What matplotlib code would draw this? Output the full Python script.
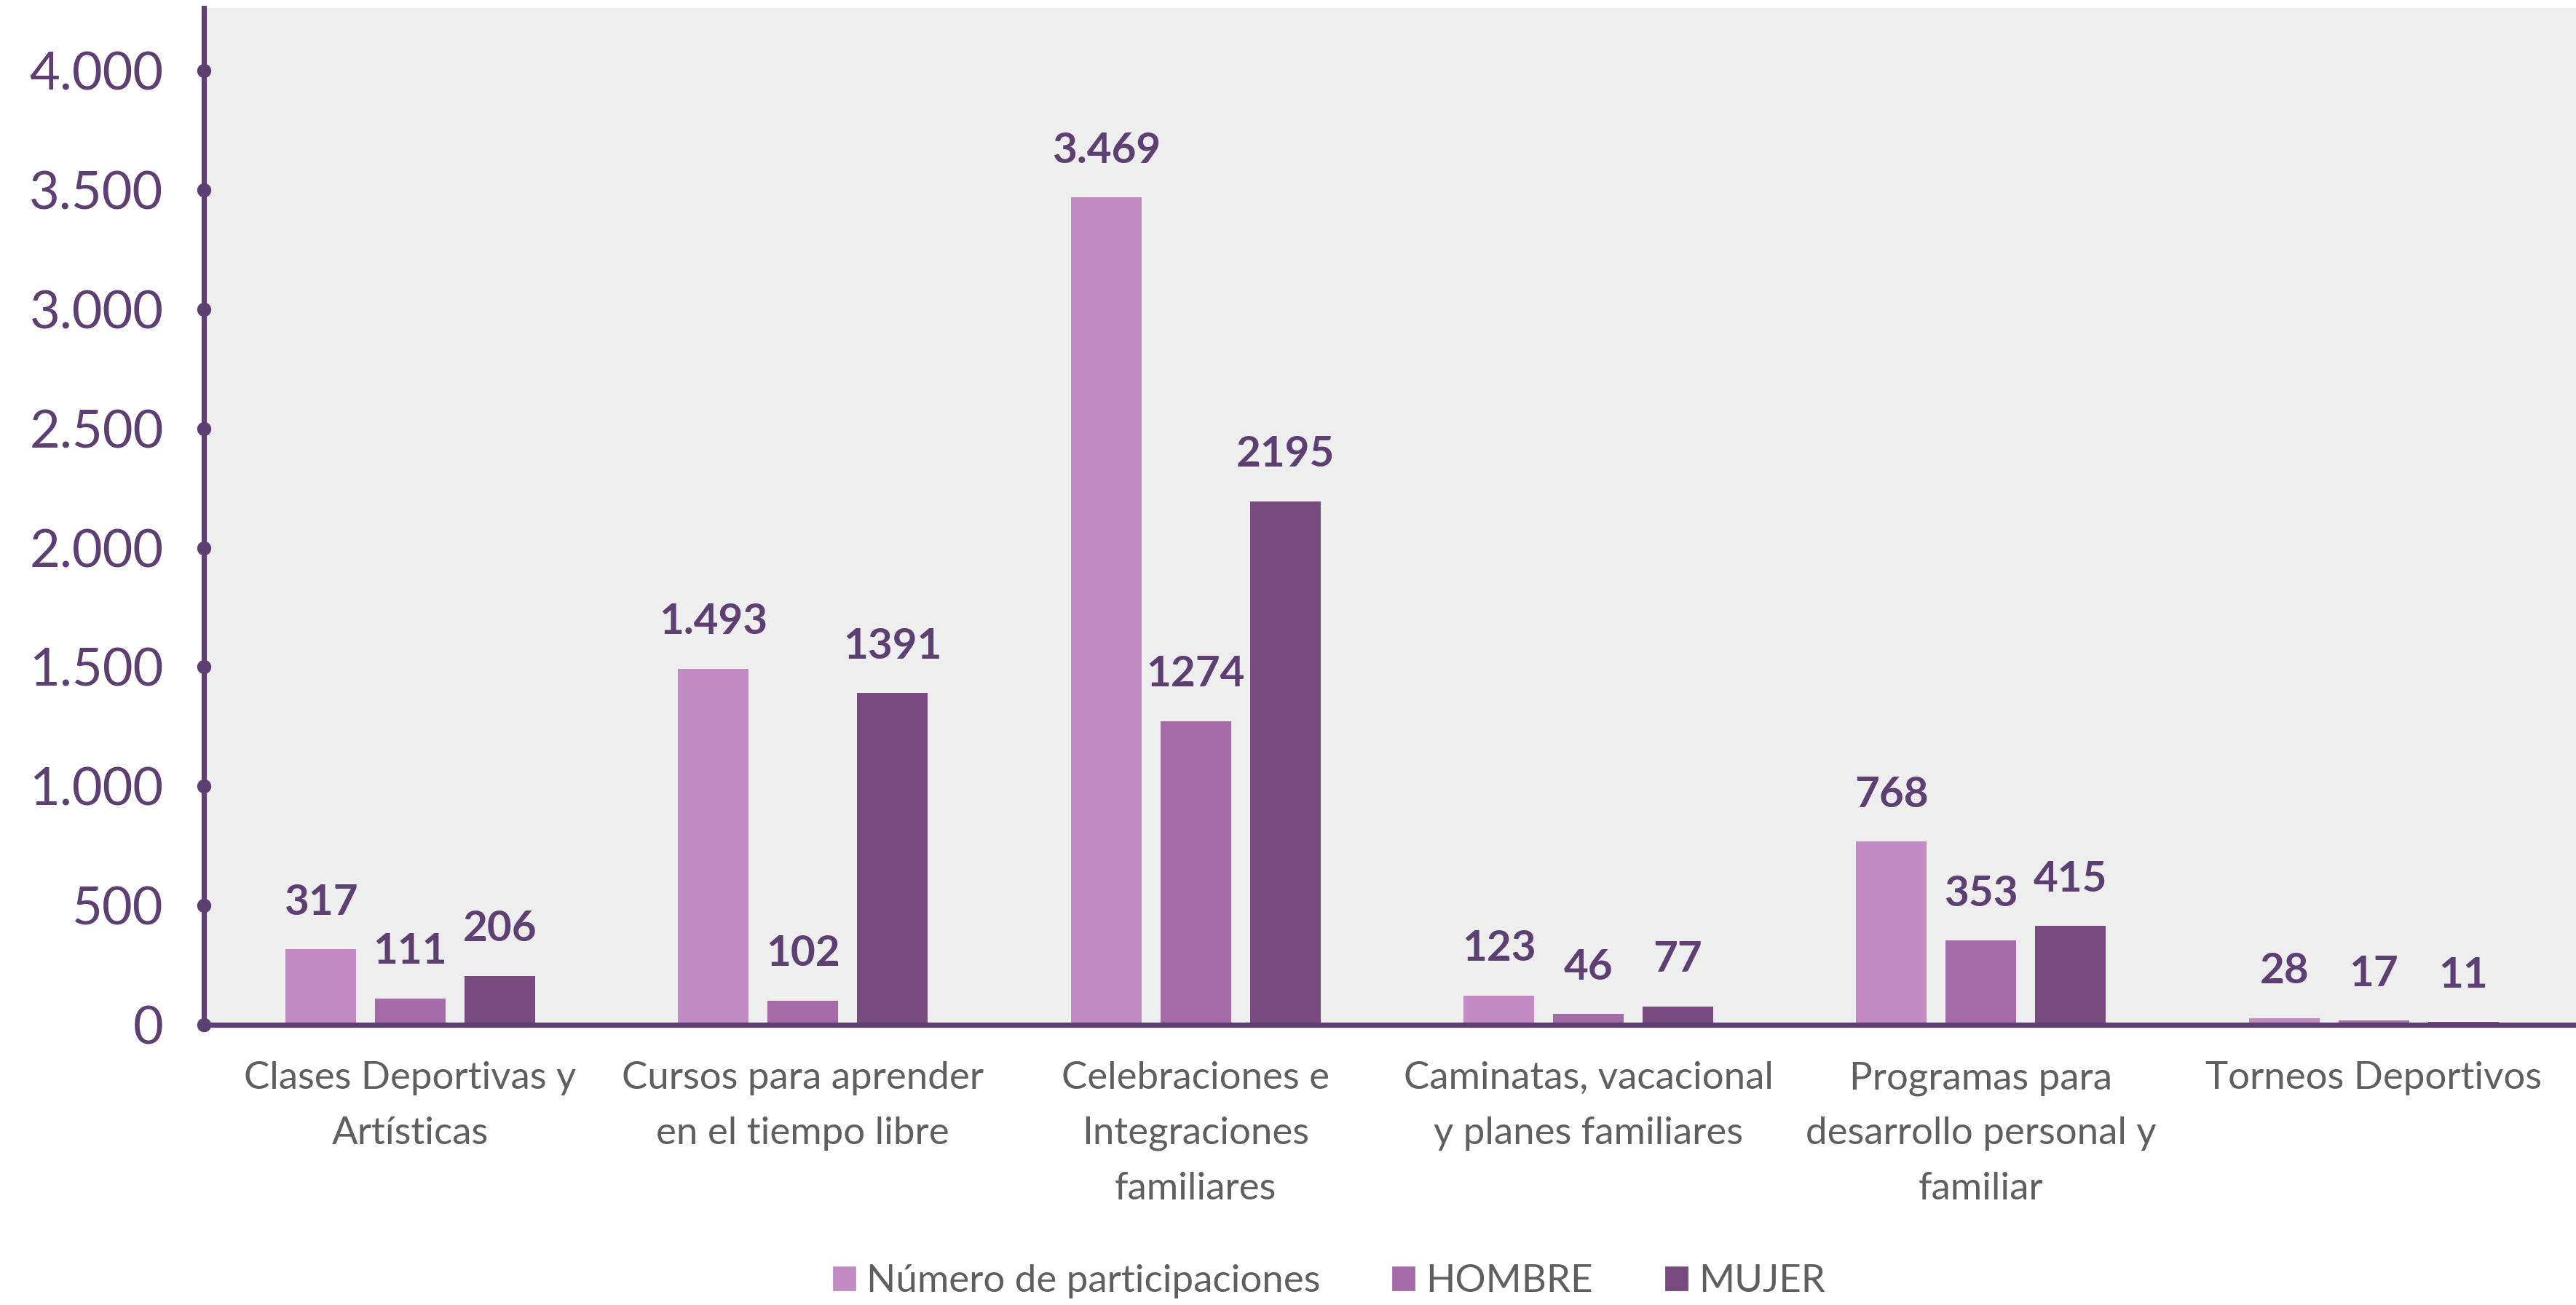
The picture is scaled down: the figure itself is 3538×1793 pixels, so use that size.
import matplotlib.pyplot as plt
import numpy as np
from matplotlib.patches import Patch

plt.rcParams['font.family'] = ['Lato', 'DejaVu Sans']

categories = ['Clases Deportivas y\nArtísticas',
              'Cursos para aprender\nen el tiempo libre',
              'Celebraciones e\nIntegraciones\nfamiliares',
              'Caminatas, vacacional\ny planes familiares',
              'Programas para\ndesarrollo personal y\nfamiliar',
              'Torneos Deportivos']
participaciones = [317, 1493, 3469, 123, 768, 28]
hombre = [111, 102, 1274, 46, 353, 17]
mujer = [206, 1391, 2195, 77, 415, 11]
series_names = ['Número de participaciones', 'HOMBRE', 'MUJER']
yticks = [0, 500, 1000, 1500, 2000, 2500, 3000, 3500, 4000]

colors = ['#C38BC3', '#A56BA8', '#784A7F']
axis_col = '#5E3F73'
label_col = '#5F5F5F'


def thousands(v):
    return f'{v:,}'.replace(',', '.')


fig = plt.figure(figsize=(17.69, 8.965), dpi=200)
ax = fig.add_axes([0.0792, 0.2147, 0.9208, 0.779])
ax.set_facecolor('#EEEEEE')

x = np.arange(len(categories))
width = 0.18
step = 0.228
series = [participaciones, hombre, mujer]
for i, vals in enumerate(series):
    pos = x + (i - 1) * step
    ax.bar(pos, vals, width, color=colors[i], label=series_names[i], zorder=2)
    for p, v in zip(pos, vals):
        txt = thousands(v) if i == 0 else str(v)
        ax.annotate(txt, (p, v), xytext=(0, 23), textcoords='offset points',
                    ha='center', va='center', fontsize=21, fontweight='bold',
                    color=axis_col)

ax.set_xlim(-0.525, 5.515)
ax.set_ylim(0, 4262)

for s in ['top', 'right']:
    ax.spines[s].set_visible(False)
for s in ['left', 'bottom']:
    ax.spines[s].set_color(axis_col)
    ax.spines[s].set_linewidth(2.6)
    ax.spines[s].set_zorder(3)

ax.set_yticks(yticks)
ax.set_yticklabels([thousands(t) for t in yticks], fontsize=26, color=axis_col)
ax.tick_params(axis='y', length=0, pad=20)
ax.plot([0] * len(yticks), yticks, 'o', color=axis_col, markersize=6,
        transform=ax.get_yaxis_transform(), clip_on=False, zorder=4)

ax.set_xticks(x)
ax.set_xticklabels(categories, fontsize=19, color=label_col, linespacing=1.75,
                   va='top')
ax.tick_params(axis='x', length=0, pad=18)

handles = [Patch(color=c) for c in colors]
fig.legend(handles, series_names, loc='center', bbox_to_anchor=(0.516, 0.018),
           ncol=3, frameon=False, fontsize=19, labelcolor=label_col,
           handlelength=0.55, handleheight=0.55, handletextpad=0.3,
           columnspacing=1.9)

fig.savefig('out.png', dpi=200, facecolor='white')
